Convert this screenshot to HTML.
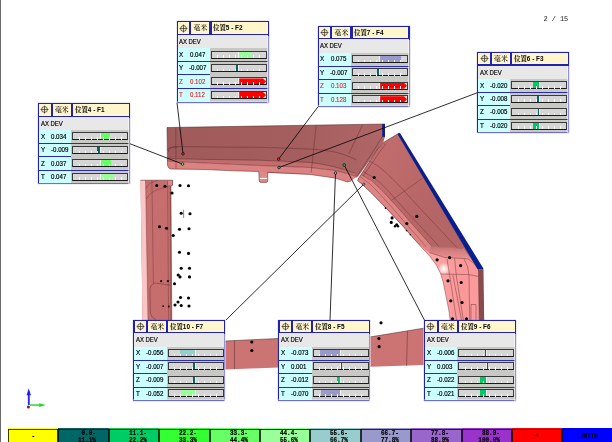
<!DOCTYPE html>
<html lang="zh">
<head>
<meta charset="utf-8">
<title>Report 2 / 15</title>
<style>
html,body{margin:0;padding:0;background:#fff;}
body{width:612px;height:442px;overflow:hidden;font-family:"Liberation Sans","Noto Sans CJK SC",sans-serif;}
#pg{filter:blur(0.3px);position:relative;width:612px;height:442px;overflow:hidden;background:#fff;}
.edge{position:absolute;left:0;top:0;width:1.2px;height:442px;background:#6a6a6a;}
.pn{position:absolute;left:543.4px;top:15.2px;font-family:"Liberation Mono",monospace;font-size:6.9px;line-height:8px;color:#222;white-space:pre;}
#mdl{position:absolute;left:0;top:0;}
.bx{position:absolute;width:90px;height:79.4px;background:#c8c8c4;box-shadow:0 0 0 1.1px #2222b0;font-size:6.6px;line-height:13.4px;color:#000;-webkit-text-stroke:0.18px #000;}
.bx .hd{position:absolute;left:0;top:0;width:90px;height:12.9px;background:#2222b0;}
.bx .c{position:absolute;top:0.2px;height:11.4px;background:#fff6cc;overflow:hidden;white-space:nowrap;line-height:11.4px;}
.bx .c1{left:0.2px;width:11.7px;}
.bx .c1 svg{position:absolute;left:1.3px;top:1.3px;}
.bx .c2{left:13.9px;width:18px;font-family:"Liberation Serif","Noto Serif CJK SC",serif;font-size:6.9px;text-align:center;-webkit-text-stroke:0;color:#000;font-weight:500;}
.bx .c3{left:34.1px;width:55.9px;font-family:"Liberation Sans","Noto Serif CJK SC",sans-serif;font-weight:bold;font-size:6.9px;-webkit-text-stroke:0;}
.bx .c3 span{position:absolute;left:1.8px;top:0;transform:scaleX(0.93);transform-origin:0 0;}
.bx .ax{position:absolute;left:0;top:12.9px;width:90px;height:13.2px;background:#e8e8e8;}
.bx .ax span{position:absolute;left:1.9px;top:-0.1px;transform:scaleX(0.9);transform-origin:0 0;white-space:nowrap;}
.bx .rw{position:absolute;left:0;width:90px;height:13.4px;}
.bx .r0{top:26.1px;}
.bx .r1{top:39.5px;}
.bx .r2{top:52.9px;}
.bx .r3{top:66.4px;height:13px;}
.bx .lb{position:absolute;left:0;top:0;width:32.3px;height:100%;background:#ccffff;}
.bx .a{position:absolute;left:1.8px;top:-0.3px;transform:scaleX(0.95);transform-origin:0 0;}
.bx .v{position:absolute;left:12px;top:-0.3px;transform:scaleX(0.93);transform-origin:0 0;white-space:nowrap;}
.bx .v.n{left:11.9px;}
.bx .red{color:#f01010;-webkit-text-stroke:0.1px #f01010;}
.bx .br{position:absolute;left:32.3px;top:0;width:57.7px;height:100%;background:#c8c8c4;}
.bx .tr{position:absolute;left:1.1px;top:2.35px;width:53.9px;height:5.9px;background:#d6d6d6;border:0.8px solid #3a3a3a;border-bottom-color:#1a1a1a;}
.bx .f{position:absolute;top:0;height:5.9px;}
.bx .t{position:absolute;top:3.7px;width:1px;height:2.5px;background:linear-gradient(#fff 0,#fff 85%,rgba(255,255,255,0.5) 100%);}
.bx .ct{position:absolute;left:26.4px;top:0;width:0.9px;height:6px;background:#f4f4f4;}
.bx .sp{position:absolute;left:0;height:0.8px;background:#2a2ab8;}
.bx .s1{top:39.1px;width:90px;}
.bx .s2{top:52.1px;width:32.3px;}
.bx .s3{top:66.1px;width:90px;}
.bx .fade{position:absolute;left:89.4px;top:13.6px;width:1.9px;height:67px;background:rgba(255,255,255,0.5);}
.bx .fadeb{position:absolute;left:-1.2px;top:78.8px;width:92.5px;height:1.8px;background:rgba(255,255,255,0.35);}
.lg{position:absolute;left:0;top:428.2px;width:612px;height:14px;}
.lc{position:absolute;top:0;height:14px;box-sizing:border-box;}
.lc::after{content:"";position:absolute;left:0;right:0;top:0.5px;bottom:-2px;box-shadow:inset 0 0 0 0.75px #000;}
.lt{position:absolute;left:0;right:12.6px;top:1.8px;text-align:right;font-family:"Liberation Mono",monospace;font-weight:bold;font-size:7.2px;line-height:7.2px;color:#000;-webkit-text-stroke:0.2px #000;transform:scaleX(0.83);transform-origin:100% 0;}
.one .lt{top:4.4px;right:0;text-align:center;transform-origin:50% 0;}
.bx .f.arw{clip-path:polygon(0 0,calc(100% - 3px) 0,100% 50%,calc(100% - 3px) 100%,0 100%);}

</style>
</head>
<body>
<div id="pg">
<div class="edge"></div>
<div class="pn">2 / 15</div>
<svg id="mdl" width="612" height="442" viewBox="0 0 612 442">
<defs>
<linearGradient id="gArm" gradientUnits="userSpaceOnUse" x1="380" y1="170" x2="440" y2="200">
<stop offset="0" stop-color="#c06c6c"/><stop offset="1" stop-color="#b46565"/>
</linearGradient>
<linearGradient id="gTop" gradientUnits="userSpaceOnUse" x1="170" y1="0" x2="385" y2="0">
<stop offset="0" stop-color="#9f5a5a"/><stop offset="0.6" stop-color="#a55e5e"/><stop offset="1" stop-color="#b06666"/>
</linearGradient>
<linearGradient id="gV" gradientUnits="userSpaceOnUse" x1="438" y1="0" x2="483" y2="0">
<stop offset="0" stop-color="#fca2a4"/><stop offset="0.5" stop-color="#fb989a"/><stop offset="1" stop-color="#fa9698"/>
</linearGradient>
<linearGradient id="gM" gradientUnits="userSpaceOnUse" x1="0" y1="247" x2="0" y2="263">
<stop offset="0" stop-color="#c87474"/><stop offset="1" stop-color="#f89c9e"/>
</linearGradient>
<radialGradient id="gH" gradientUnits="userSpaceOnUse" cx="444" cy="269" r="6.5">
<stop offset="0" stop-color="#fff" stop-opacity="0.95"/><stop offset="0.45" stop-color="#fff" stop-opacity="0.6"/><stop offset="1" stop-color="#fff" stop-opacity="0"/>
</radialGradient>
</defs>
<!-- left vertical piece -->
<g>
<polygon points="140.5,180.2 172.6,180.2 172.6,185.2 170.9,186 171.8,320 142.5,320" fill="#c66e6e"/>
<polygon points="140.5,180.2 145.6,180.2 148,320 142.5,320" fill="#f9c6c6"/>
<polygon points="168,180.4 172.6,180.4 172.6,185.2 170.9,186 168,186" fill="#d98a8a"/>
<path d="M151.9,180.4L153.4,284M145.6,180.2L148,320M167.6,181L168.6,320M170.1,186L170.8,320" stroke="#7a3c3c" stroke-width="0.5" fill="none"/>
<path d="M146.2,188.4 Q148,182.5 158,180.4 M146.4,199 Q150,192 158,189.6 Q166,187 170.7,185.2" stroke="#6a3030" stroke-width="0.4" fill="none"/>
<path d="M150,292 Q149.4,284.6 155,283 L170.5,285.2 M150,292 L150.4,312 Q151,318 156,319.4" stroke="#6a3030" stroke-width="0.5" fill="none"/>
<path d="M140.5,180.2H172.6" stroke="#5a2a2a" stroke-width="0.5"/>
</g>
<!-- bottom bar -->
<g>
<polygon points="225,341 278,338.5 371,336.8 423.5,328.2 423.5,365 371,366.8 278,367.6 225,369.4" fill="#cc7474"/>
<path d="M225,341L278,338.5L371,336.8L423.5,328.2" stroke="#3a1c1c" stroke-width="0.5" fill="none"/>
<path d="M234.5,340.6V369M407.5,331.3L406.6,366" stroke="#5a2a2a" stroke-width="0.5" fill="none"/>
</g>
<!-- right vertical piece -->
<g>
<path d="M420,245.7 L430,256.4 L436.4,265.2 L440.8,274 L443.3,282.8 L445.8,295 L448.8,310 L450.2,320 L479.2,320 L478.5,269.5 L463,248.2 L424,246 Z" fill="url(#gV)"/>
<path d="M424,246 L463,248.2 L478.5,269.5 Q474,262 467.8,258.9 L457.7,258.2 L445,257.6 L429.4,252.6 Z" fill="url(#gM)"/>
<path d="M469,275 L469.7,320 L479.2,320 L478.5,269.5 Q475,263 467.8,258.9 Q469,266 469,275Z" fill="#fa9a9c"/>
<path d="M478.3,269.5 L483.5,269.5 L484.2,320 L479.2,320 Z" fill="#874c4e"/>
<path d="M430,256.4 L436.4,265.2 L440.8,274 L443.3,282.8 L452,282 L452,258 L436,254 Z" fill="url(#gH)"/>
<g stroke="#6a3030" stroke-width="0.45" fill="none">
<path d="M447,258.9 Q448.5,268 449.6,275 L456.5,320"/>
<path d="M454.6,258.2 Q455.5,268 456.5,277 L463.4,320"/>
<path d="M452.8,275 L461.6,320"/>
<path d="M464,258.9 Q468.5,266 469,275 L469.7,320"/>
<path d="M440.8,274 L469,274.6 L478.5,276.5"/>
<path d="M471,320V304.5H476V320"/>
<path d="M424,246 L443.9,246.9 L463,248.2"/>
<path d="M429.4,252.6 L445,257.6 L457.7,258.2 L467.8,258.9 Q474,262 478.5,269.5"/>
<path d="M420,245.7 L430,256.4 L436.4,265.2 L440.8,274 L443.3,282.8 L445.8,295 L448.8,310 L450.2,320"/>
<path d="M478.5,269.5 L479.2,320"/>
</g>
</g>
<!-- diagonal arm -->
<g>
<polygon points="399,133.1 478,269.3 478.5,269.5 463,248.2 424,246 420,245 403.3,226.7 385.5,207.5 371.7,193.3 364,186 357.6,180.4 359,177.6 377,150 383.7,142.3" fill="url(#gArm)"/>
<polygon points="397.6,134.2 399.8,132.8 483.4,268.5 483.4,269.6 477.8,269.6" fill="#0a1e8c"/>
<g stroke="#6a3030" stroke-width="0.45" fill="none">
<path d="M369,160.8 Q378,165 385,171.7 Q395,181 403.3,190 L420,208.3 L446,236 L457,247.8"/>
<path d="M363.3,171.7 Q372,176 380,182.5 Q388,190 393.3,196.7 L408.3,213.3 L434,241 L439,246.6"/>
<path d="M423.3,177.5L385,205"/>
<path d="M386,143.5 Q381,150 377,156 L361.5,178.5"/>
</g>
</g>
<!-- top bar -->
<g>
<polygon points="167,127.5 260,126 385,124 385,136.8 383.3,142.3 376.4,151.3 358,176.4 356.7,176.7 347.5,173.6 335,170.5 310,167.5 260,165.5 205,163 167.5,161.2" fill="url(#gTop)"/>
<polygon points="382.2,124 385,124 385,136.8 382.2,136.8" fill="#0c1e8a"/>
<!-- tab -->
<path d="M258.8,171 L259.2,181 Q259.4,182.4 261,182.4 L266.2,182.4 Q267.7,182.4 267.7,181 L267.8,171.5Z" fill="#e08888"/>
<path d="M259.6,178.4H267.5" stroke="#fff" stroke-width="1.1"/>
</g>
<!-- light strip along inside -->
<path d="M168,157.5 Q169,158.6 175,158.8 L205,159.4 L260,160.2 L310,162.4 Q335,165.6 354.5,173 L356.7,176.7 L347.5,173.6 L335,170.5 L310,167.5 L260,165.5 L205,163 L167.5,161.2 Z" fill="#c16d6d"/>

<path d="M167.5,161.2 L205,163 L260,165.5 L310,167.5 L335,170.5 L347.5,173.6 L356.7,176.7 L350.8,181.2 L347.5,182 L335,178 L310,174.5 L268.8,173 L258.8,171.5 L232.5,170.8 L205,169.5 L170.5,169 Q167.7,168 167.5,165 Z" fill="#dc8282"/>
<path d="M361.5,175 L372,181 L381,189.5 L395,204.5 L411.7,223.5 L431,245.5 L429.4,252.6 L420,245.7 L403.3,226.7 L385.5,207.5 L371.7,193.3 L364,186 L357.6,180.4 L359,177.6 Z" fill="#de8484"/><path d="M361.5,175 L372,181 L381,189.5 L395,204.5 L411.7,223.5 L431,245.5 M360,176.6 L369.5,183.6 L378,192 L392,207.5 L408,226 L426,246.5" stroke="#6a3030" stroke-width="0.4" fill="none"/>
<!-- top bar lines -->
<g stroke="#5c2a2a" stroke-width="0.45" fill="none">
<path d="M175.8,127.6 L176,168.8 M168.4,152 Q169,146.6 175.3,146.4 L180,146.6 L230,147.2 L260,147.3 L297.5,148.6 Q320,149 335,152 Q350,156 356.2,160"/>
<path d="M167.5,150 Q168,147.8 171,147.6 L177.5,147.5"/>
<path d="M167.8,157 Q169,158.6 175,158.8 L205,159.4 L260,160.2 L310,162.4 Q335,165.6 354.5,173"/>
<path d="M316.2,125 L311.2,172.5"/>
<path d="M362.5,125 L348.8,153.8"/>
<path d="M167.5,161.2 L205,163 L260,165.5 L310,167.5 L335,170.5 L347.5,173.6 L356.7,176.7"/>
</g>
<!-- silhouettes -->
<g stroke="#4a2222" stroke-width="0.5" fill="none">
<path d="M167,127.5 L260,126 L385,124"/>
<path d="M167,127.5 L167.5,165 Q167.7,168 170.5,169 L205,169.5 L232.5,170.8 L258.8,171.5 L259.2,181 Q259.4,182.4 261,182.4 L266.2,182.4 Q267.7,182.4 267.7,181 L267.8,172.2 L310,174.5 L335,178 L347.5,182 L350.8,181"/>
<path d="M357.6,180.4 L364,186 L371.7,193.3 L385.5,207.5 L403.3,226.7 L420,245.7"/>
<path d="M382.2,136.8 L375,148.5 L356,177.8" stroke-width="0.4"/>
<path d="M399,133.1 L383.7,142.3 L377,150 L359,177.6 L357.6,180.4"/>
<path d="M172.6,180.2V185.2L170.9,186L171.8,320"/>
</g>
<!-- dots -->
<g fill="#000">
<circle cx="156.8" cy="185.5" r="1.55"/><circle cx="165" cy="186.2" r="1.55"/><circle cx="180" cy="185.5" r="1.55"/><circle cx="188.5" cy="185.8" r="1.55"/>
<circle cx="172" cy="193" r="1.55"/><circle cx="181.2" cy="213.2" r="1.55"/><circle cx="190" cy="213.8" r="1.55"/>
<circle cx="159.5" cy="226.8" r="1.55"/><circle cx="166.5" cy="228.2" r="1.55"/><circle cx="179.5" cy="229.2" r="1.55"/><circle cx="189" cy="228.8" r="1.55"/>
<circle cx="173.2" cy="235.5" r="1.55"/><circle cx="179.5" cy="252.2" r="1.55"/><circle cx="188.5" cy="253.4" r="1.55"/>
<circle cx="181.2" cy="268.2" r="1.55"/><circle cx="189.5" cy="268.2" r="1.55"/><circle cx="178.2" cy="275" r="1.55"/><circle cx="180" cy="276.9" r="1.55"/><circle cx="189.5" cy="276.9" r="1.55"/>
<circle cx="161.2" cy="281.2" r="1.1"/><circle cx="168" cy="281.2" r="1.1"/><circle cx="174.5" cy="283.8" r="1.55"/>
<circle cx="180.5" cy="297.5" r="1.55"/><circle cx="188.5" cy="298" r="1.55"/><circle cx="178" cy="302" r="1.55"/><circle cx="175" cy="305" r="1.55"/><circle cx="181.2" cy="305.5" r="1.55"/><circle cx="189" cy="306" r="1.55"/>
<circle cx="163.2" cy="306.2" r="0.9"/><circle cx="168.8" cy="306.5" r="0.9"/>
<circle cx="251.8" cy="342" r="1.6"/><circle cx="251.8" cy="350.5" r="1.6"/>
<circle cx="381" cy="322.8" r="1.6"/><circle cx="378.9" cy="338.6" r="1.6"/><circle cx="379.1" cy="346.7" r="1.6"/>
<circle cx="374.2" cy="177.5" r="1.6"/><circle cx="416.8" cy="216.4" r="1.6"/><circle cx="406.8" cy="223.5" r="1.6"/>
<circle cx="385.5" cy="208" r="0.9"/><circle cx="392.1" cy="217.9" r="1.55"/><circle cx="391.3" cy="222.4" r="1.55"/>
<circle cx="396.7" cy="224.7" r="1.55"/><circle cx="395" cy="226.2" r="1.2"/><circle cx="398" cy="226.2" r="1.2"/>
<circle cx="406.5" cy="230.6" r="0.8"/><circle cx="410.2" cy="234.8" r="0.7"/>
<circle cx="437.1" cy="259.8" r="1.6"/><circle cx="449.6" cy="257.6" r="1.6"/><circle cx="460.6" cy="265.6" r="1.6"/>
<circle cx="448" cy="280.8" r="1.6"/><circle cx="461.2" cy="282.5" r="1.6"/><circle cx="450.8" cy="300.8" r="1.6"/><circle cx="462" cy="302.5" r="1.6"/>
<circle cx="452.5" cy="318.8" r="1.6"/><circle cx="466.5" cy="318.8" r="1.6"/>
</g>
<path d="M183.6,209.7V217.9" stroke="#111" stroke-width="0.5"/>
<!-- leader lines -->
<g stroke="#0a0a0a" stroke-width="0.85" fill="none">
<path d="M130.1,143.8L182.5,164"/>
<path d="M177,102.6L183,153.8"/>
<path d="M318,106.8L278.6,159.1"/>
<path d="M477.4,92.7L279,167.5"/>
<path d="M226,320L363.8,184.2"/>
<path d="M330,320L335.5,173"/>
<path d="M424.4,320L344.2,165"/>
</g>
<g stroke="#111" stroke-width="0.7">
<circle cx="183" cy="153.8" r="1.3" fill="#f01818"/>
<circle cx="182.5" cy="164" r="1.3" fill="#58e858"/>
<circle cx="278.6" cy="159.1" r="1.3" fill="#f01818"/>
<circle cx="279" cy="167.5" r="1.3" fill="#10c060"/>
<circle cx="344.2" cy="165" r="1.4" fill="#10c060"/>
<circle cx="335.5" cy="173" r="1.3" fill="#a0a0e0"/>
<circle cx="363.8" cy="184.2" r="1.1" fill="#a0e0e8"/>
</g>
<!-- triad -->
<g>
<path d="M28.8,405V394.5" stroke="#2a2af0" stroke-width="1.9"/>
<polygon points="26.6,395.2 31,395.2 28.7,388.2" fill="#2020e8"/>
<path d="M30,405.1H39.6" stroke="#30e030" stroke-width="1.6"/>
<polygon points="39.2,403.3 39.2,406.9 45.8,405.1" fill="#20d820"/>
<circle cx="28.4" cy="407" r="1.55" fill="#9a1414"/>
</g>
</svg>

<div class="bx" style="left:38.90px;top:104.00px">
<div class="hd"><div class="c c1"><svg width="9" height="9" viewBox="0 0 9 9"><circle cx="4.5" cy="4.5" r="2.9" fill="#f6ecc0" stroke="#222" stroke-width="0.65"/><path d="M4.5 0.5V8.5M0.5 4.5H8.5" stroke="#222" stroke-width="0.65" fill="none"/></svg></div><div class="c c2">毫米</div><div class="c c3"><span>位置4 - F1</span></div></div>
<div class="ax"><span>AX DEV</span></div>
<div class="rw r0"><div class="lb"><span class="a">X</span><span class="v">0.034</span></div><div class="br"><div class="tr"><i class="f" style="left:27.3px;width:9.4px;background:#66ff66"></i><i class="t" style="left:5.4px"></i><i class="t" style="left:11.4px"></i><i class="t" style="left:17.4px"></i><i class="t" style="left:23.4px"></i><i class="t" style="left:29.4px"></i><i class="t" style="left:35.5px"></i><i class="t" style="left:41.5px"></i><i class="t" style="left:47.5px"></i><i class="ct"></i></div></div></div>
<div class="rw r1"><div class="lb"><span class="a">Y</span><span class="v n">-0.009</span></div><div class="br"><div class="tr"><i class="f" style="left:24.0px;width:2.5px;background:#006666"></i><i class="t" style="left:5.4px"></i><i class="t" style="left:11.4px"></i><i class="t" style="left:17.4px"></i><i class="t" style="left:23.4px"></i><i class="t" style="left:29.4px"></i><i class="t" style="left:35.5px"></i><i class="t" style="left:41.5px"></i><i class="t" style="left:47.5px"></i><i class="ct"></i></div></div></div>
<div class="rw r2"><div class="lb"><span class="a">Z</span><span class="v">0.037</span></div><div class="br"><div class="tr"><i class="f" style="left:27.3px;width:10.2px;background:#66ff66"></i><i class="t" style="left:5.4px"></i><i class="t" style="left:11.4px"></i><i class="t" style="left:17.4px"></i><i class="t" style="left:23.4px"></i><i class="t" style="left:29.4px"></i><i class="t" style="left:35.5px"></i><i class="t" style="left:41.5px"></i><i class="t" style="left:47.5px"></i><i class="ct"></i></div></div></div>
<div class="rw r3"><div class="lb"><span class="a">T</span><span class="v">0.047</span></div><div class="br"><div class="tr"><i class="f" style="left:27.3px;width:12.9px;background:#99ff99"></i><i class="t" style="left:5.4px"></i><i class="t" style="left:11.4px"></i><i class="t" style="left:17.4px"></i><i class="t" style="left:23.4px"></i><i class="t" style="left:29.4px"></i><i class="t" style="left:35.5px"></i><i class="t" style="left:41.5px"></i><i class="t" style="left:47.5px"></i><i class="ct"></i></div></div></div>
<i class="sp s1"></i><i class="sp s2"></i><i class="sp s3"></i><i class="fade"></i><i class="fadeb"></i>
</div>
<div class="bx" style="left:177.55px;top:22.25px">
<div class="hd"><div class="c c1"><svg width="9" height="9" viewBox="0 0 9 9"><circle cx="4.5" cy="4.5" r="2.9" fill="#f6ecc0" stroke="#222" stroke-width="0.65"/><path d="M4.5 0.5V8.5M0.5 4.5H8.5" stroke="#222" stroke-width="0.65" fill="none"/></svg></div><div class="c c2">毫米</div><div class="c c3"><span>位置5 - F2</span></div></div>
<div class="ax"><span>AX DEV</span></div>
<div class="rw r0"><div class="lb"><span class="a">X</span><span class="v">0.047</span></div><div class="br"><div class="tr"><i class="f" style="left:27.3px;width:12.9px;background:#99ff99"></i><i class="t" style="left:5.4px"></i><i class="t" style="left:11.4px"></i><i class="t" style="left:17.4px"></i><i class="t" style="left:23.4px"></i><i class="t" style="left:29.4px"></i><i class="t" style="left:35.5px"></i><i class="t" style="left:41.5px"></i><i class="t" style="left:47.5px"></i><i class="ct"></i></div></div></div>
<div class="rw r1"><div class="lb"><span class="a">Y</span><span class="v n">-0.007</span></div><div class="br"><div class="tr"><i class="f" style="left:24.5px;width:1.9px;background:#006666"></i><i class="t" style="left:5.4px"></i><i class="t" style="left:11.4px"></i><i class="t" style="left:17.4px"></i><i class="t" style="left:23.4px"></i><i class="t" style="left:29.4px"></i><i class="t" style="left:35.5px"></i><i class="t" style="left:41.5px"></i><i class="t" style="left:47.5px"></i><i class="ct"></i></div></div></div>
<div class="rw red r2"><div class="lb"><span class="a">Z</span><span class="v">0.102</span></div><div class="br"><div class="tr"><i class="f arw" style="left:27.3px;width:26.8px;background:#ff0000"></i><i class="t" style="left:5.4px"></i><i class="t" style="left:11.4px"></i><i class="t" style="left:17.4px"></i><i class="t" style="left:23.4px"></i><i class="t" style="left:29.4px"></i><i class="t" style="left:35.5px"></i><i class="t" style="left:41.5px"></i><i class="t" style="left:47.5px"></i><i class="ct"></i></div></div></div>
<div class="rw red r3"><div class="lb"><span class="a">T</span><span class="v">0.112</span></div><div class="br"><div class="tr"><i class="f arw" style="left:27.3px;width:26.8px;background:#ff0000"></i><i class="t" style="left:5.4px"></i><i class="t" style="left:11.4px"></i><i class="t" style="left:17.4px"></i><i class="t" style="left:23.4px"></i><i class="t" style="left:29.4px"></i><i class="t" style="left:35.5px"></i><i class="t" style="left:41.5px"></i><i class="t" style="left:47.5px"></i><i class="ct"></i></div></div></div>
<i class="sp s1"></i><i class="sp s2"></i><i class="sp s3"></i><i class="fade"></i><i class="fadeb"></i>
</div>
<div class="bx" style="left:318.50px;top:26.55px">
<div class="hd"><div class="c c1"><svg width="9" height="9" viewBox="0 0 9 9"><circle cx="4.5" cy="4.5" r="2.9" fill="#f6ecc0" stroke="#222" stroke-width="0.65"/><path d="M4.5 0.5V8.5M0.5 4.5H8.5" stroke="#222" stroke-width="0.65" fill="none"/></svg></div><div class="c c2">毫米</div><div class="c c3"><span>位置7 - F4</span></div></div>
<div class="ax"><span>AX DEV</span></div>
<div class="rw r0"><div class="lb"><span class="a">X</span><span class="v">0.075</span></div><div class="br"><div class="tr"><i class="f" style="left:27.3px;width:20.6px;background:#9999cc"></i><i class="t" style="left:5.4px"></i><i class="t" style="left:11.4px"></i><i class="t" style="left:17.4px"></i><i class="t" style="left:23.4px"></i><i class="t" style="left:29.4px"></i><i class="t" style="left:35.5px"></i><i class="t" style="left:41.5px"></i><i class="t" style="left:47.5px"></i><i class="ct"></i></div></div></div>
<div class="rw r1"><div class="lb"><span class="a">Y</span><span class="v n">-0.007</span></div><div class="br"><div class="tr"><i class="f" style="left:24.5px;width:1.9px;background:#006666"></i><i class="t" style="left:5.4px"></i><i class="t" style="left:11.4px"></i><i class="t" style="left:17.4px"></i><i class="t" style="left:23.4px"></i><i class="t" style="left:29.4px"></i><i class="t" style="left:35.5px"></i><i class="t" style="left:41.5px"></i><i class="t" style="left:47.5px"></i><i class="ct"></i></div></div></div>
<div class="rw red r2"><div class="lb"><span class="a">Z</span><span class="v">0.103</span></div><div class="br"><div class="tr"><i class="f arw" style="left:27.3px;width:26.8px;background:#ff0000"></i><i class="t" style="left:5.4px"></i><i class="t" style="left:11.4px"></i><i class="t" style="left:17.4px"></i><i class="t" style="left:23.4px"></i><i class="t" style="left:29.4px"></i><i class="t" style="left:35.5px"></i><i class="t" style="left:41.5px"></i><i class="t" style="left:47.5px"></i><i class="ct"></i></div></div></div>
<div class="rw red r3"><div class="lb"><span class="a">T</span><span class="v">0.128</span></div><div class="br"><div class="tr"><i class="f arw" style="left:27.3px;width:26.8px;background:#ff0000"></i><i class="t" style="left:5.4px"></i><i class="t" style="left:11.4px"></i><i class="t" style="left:17.4px"></i><i class="t" style="left:23.4px"></i><i class="t" style="left:29.4px"></i><i class="t" style="left:35.5px"></i><i class="t" style="left:41.5px"></i><i class="t" style="left:47.5px"></i><i class="ct"></i></div></div></div>
<i class="sp s1"></i><i class="sp s2"></i><i class="sp s3"></i><i class="fade"></i><i class="fadeb"></i>
</div>
<div class="bx" style="left:478.10px;top:52.90px">
<div class="hd"><div class="c c1"><svg width="9" height="9" viewBox="0 0 9 9"><circle cx="4.5" cy="4.5" r="2.9" fill="#f6ecc0" stroke="#222" stroke-width="0.65"/><path d="M4.5 0.5V8.5M0.5 4.5H8.5" stroke="#222" stroke-width="0.65" fill="none"/></svg></div><div class="c c2">毫米</div><div class="c c3"><span>位置6 - F3</span></div></div>
<div class="ax"><span>AX DEV</span></div>
<div class="rw r0"><div class="lb"><span class="a">X</span><span class="v n">-0.020</span></div><div class="br"><div class="tr"><i class="f" style="left:20.9px;width:5.5px;background:#00cc66"></i><i class="t" style="left:5.4px"></i><i class="t" style="left:11.4px"></i><i class="t" style="left:17.4px"></i><i class="t" style="left:23.4px"></i><i class="t" style="left:29.4px"></i><i class="t" style="left:35.5px"></i><i class="t" style="left:41.5px"></i><i class="t" style="left:47.5px"></i><i class="ct"></i></div></div></div>
<div class="rw r1"><div class="lb"><span class="a">Y</span><span class="v n">-0.008</span></div><div class="br"><div class="tr"><i class="f" style="left:24.2px;width:2.2px;background:#006666"></i><i class="t" style="left:5.4px"></i><i class="t" style="left:11.4px"></i><i class="t" style="left:17.4px"></i><i class="t" style="left:23.4px"></i><i class="t" style="left:29.4px"></i><i class="t" style="left:35.5px"></i><i class="t" style="left:41.5px"></i><i class="t" style="left:47.5px"></i><i class="ct"></i></div></div></div>
<div class="rw r2"><div class="lb"><span class="a">Z</span><span class="v n">-0.005</span></div><div class="br"><div class="tr"><i class="f" style="left:25.3px;width:1.1px;background:#006666"></i><i class="t" style="left:5.4px"></i><i class="t" style="left:11.4px"></i><i class="t" style="left:17.4px"></i><i class="t" style="left:23.4px"></i><i class="t" style="left:29.4px"></i><i class="t" style="left:35.5px"></i><i class="t" style="left:41.5px"></i><i class="t" style="left:47.5px"></i><i class="ct"></i></div></div></div>
<div class="rw r3"><div class="lb"><span class="a">T</span><span class="v n">-0.020</span></div><div class="br"><div class="tr"><i class="f" style="left:20.9px;width:5.5px;background:#00cc66"></i><i class="t" style="left:5.4px"></i><i class="t" style="left:11.4px"></i><i class="t" style="left:17.4px"></i><i class="t" style="left:23.4px"></i><i class="t" style="left:29.4px"></i><i class="t" style="left:35.5px"></i><i class="t" style="left:41.5px"></i><i class="t" style="left:47.5px"></i><i class="ct"></i></div></div></div>
<i class="sp s1"></i><i class="sp s2"></i><i class="sp s3"></i><i class="fade"></i><i class="fadeb"></i>
</div>
<div class="bx" style="left:134.40px;top:320.60px">
<div class="hd"><div class="c c1"><svg width="9" height="9" viewBox="0 0 9 9"><circle cx="4.5" cy="4.5" r="2.9" fill="#f6ecc0" stroke="#222" stroke-width="0.65"/><path d="M4.5 0.5V8.5M0.5 4.5H8.5" stroke="#222" stroke-width="0.65" fill="none"/></svg></div><div class="c c2">毫米</div><div class="c c3"><span>位置10 - F7</span></div></div>
<div class="ax"><span>AX DEV</span></div>
<div class="rw r0"><div class="lb"><span class="a">X</span><span class="v n">-0.056</span></div><div class="br"><div class="tr"><i class="f" style="left:11.0px;width:15.4px;background:#99cccc"></i><i class="t" style="left:5.4px"></i><i class="t" style="left:11.4px"></i><i class="t" style="left:17.4px"></i><i class="t" style="left:23.4px"></i><i class="t" style="left:29.4px"></i><i class="t" style="left:35.5px"></i><i class="t" style="left:41.5px"></i><i class="t" style="left:47.5px"></i><i class="ct"></i></div></div></div>
<div class="rw r1"><div class="lb"><span class="a">Y</span><span class="v n">-0.007</span></div><div class="br"><div class="tr"><i class="f" style="left:24.5px;width:1.9px;background:#006666"></i><i class="t" style="left:5.4px"></i><i class="t" style="left:11.4px"></i><i class="t" style="left:17.4px"></i><i class="t" style="left:23.4px"></i><i class="t" style="left:29.4px"></i><i class="t" style="left:35.5px"></i><i class="t" style="left:41.5px"></i><i class="t" style="left:47.5px"></i><i class="ct"></i></div></div></div>
<div class="rw r2"><div class="lb"><span class="a">Z</span><span class="v n">-0.009</span></div><div class="br"><div class="tr"><i class="f" style="left:24.0px;width:2.5px;background:#006666"></i><i class="t" style="left:5.4px"></i><i class="t" style="left:11.4px"></i><i class="t" style="left:17.4px"></i><i class="t" style="left:23.4px"></i><i class="t" style="left:29.4px"></i><i class="t" style="left:35.5px"></i><i class="t" style="left:41.5px"></i><i class="t" style="left:47.5px"></i><i class="ct"></i></div></div></div>
<div class="rw r3"><div class="lb"><span class="a">T</span><span class="v n">-0.052</span></div><div class="br"><div class="tr"><i class="f" style="left:12.2px;width:14.3px;background:#99ff99"></i><i class="t" style="left:5.4px"></i><i class="t" style="left:11.4px"></i><i class="t" style="left:17.4px"></i><i class="t" style="left:23.4px"></i><i class="t" style="left:29.4px"></i><i class="t" style="left:35.5px"></i><i class="t" style="left:41.5px"></i><i class="t" style="left:47.5px"></i><i class="ct"></i></div></div></div>
<i class="sp s1"></i><i class="sp s2"></i><i class="sp s3"></i><i class="fade"></i><i class="fadeb"></i>
</div>
<div class="bx" style="left:279.40px;top:320.60px">
<div class="hd"><div class="c c1"><svg width="9" height="9" viewBox="0 0 9 9"><circle cx="4.5" cy="4.5" r="2.9" fill="#f6ecc0" stroke="#222" stroke-width="0.65"/><path d="M4.5 0.5V8.5M0.5 4.5H8.5" stroke="#222" stroke-width="0.65" fill="none"/></svg></div><div class="c c2">毫米</div><div class="c c3"><span>位置8 - F5</span></div></div>
<div class="ax"><span>AX DEV</span></div>
<div class="rw r0"><div class="lb"><span class="a">X</span><span class="v n">-0.073</span></div><div class="br"><div class="tr"><i class="f" style="left:6.4px;width:20.1px;background:#9999cc"></i><i class="t" style="left:5.4px"></i><i class="t" style="left:11.4px"></i><i class="t" style="left:17.4px"></i><i class="t" style="left:23.4px"></i><i class="t" style="left:29.4px"></i><i class="t" style="left:35.5px"></i><i class="t" style="left:41.5px"></i><i class="t" style="left:47.5px"></i><i class="ct"></i></div></div></div>
<div class="rw r1"><div class="lb"><span class="a">Y</span><span class="v">0.001</span></div><div class="br"><div class="tr"><i class="f" style="left:27.3px;width:0.8px;background:#006666"></i><i class="t" style="left:5.4px"></i><i class="t" style="left:11.4px"></i><i class="t" style="left:17.4px"></i><i class="t" style="left:23.4px"></i><i class="t" style="left:29.4px"></i><i class="t" style="left:35.5px"></i><i class="t" style="left:41.5px"></i><i class="t" style="left:47.5px"></i><i class="ct"></i></div></div></div>
<div class="rw r2"><div class="lb"><span class="a">Z</span><span class="v n">-0.012</span></div><div class="br"><div class="tr"><i class="f" style="left:23.1px;width:3.3px;background:#00cc66"></i><i class="t" style="left:5.4px"></i><i class="t" style="left:11.4px"></i><i class="t" style="left:17.4px"></i><i class="t" style="left:23.4px"></i><i class="t" style="left:29.4px"></i><i class="t" style="left:35.5px"></i><i class="t" style="left:41.5px"></i><i class="t" style="left:47.5px"></i><i class="ct"></i></div></div></div>
<div class="rw r3"><div class="lb"><span class="a">T</span><span class="v n">-0.070</span></div><div class="br"><div class="tr"><i class="f" style="left:7.2px;width:19.3px;background:#9999cc"></i><i class="t" style="left:5.4px"></i><i class="t" style="left:11.4px"></i><i class="t" style="left:17.4px"></i><i class="t" style="left:23.4px"></i><i class="t" style="left:29.4px"></i><i class="t" style="left:35.5px"></i><i class="t" style="left:41.5px"></i><i class="t" style="left:47.5px"></i><i class="ct"></i></div></div></div>
<i class="sp s1"></i><i class="sp s2"></i><i class="sp s3"></i><i class="fade"></i><i class="fadeb"></i>
</div>
<div class="bx" style="left:424.90px;top:320.60px">
<div class="hd"><div class="c c1"><svg width="9" height="9" viewBox="0 0 9 9"><circle cx="4.5" cy="4.5" r="2.9" fill="#f6ecc0" stroke="#222" stroke-width="0.65"/><path d="M4.5 0.5V8.5M0.5 4.5H8.5" stroke="#222" stroke-width="0.65" fill="none"/></svg></div><div class="c c2">毫米</div><div class="c c3"><span>位置9 - F6</span></div></div>
<div class="ax"><span>AX DEV</span></div>
<div class="rw r0"><div class="lb"><span class="a">X</span><span class="v n">-0.006</span></div><div class="br"><div class="tr"><i class="f" style="left:25.3px;width:1.1px;background:#006666"></i><i class="t" style="left:5.4px"></i><i class="t" style="left:11.4px"></i><i class="t" style="left:17.4px"></i><i class="t" style="left:23.4px"></i><i class="t" style="left:29.4px"></i><i class="t" style="left:35.5px"></i><i class="t" style="left:41.5px"></i><i class="t" style="left:47.5px"></i><i class="ct"></i></div></div></div>
<div class="rw r1"><div class="lb"><span class="a">Y</span><span class="v">0.003</span></div><div class="br"><div class="tr"><i class="f" style="left:27.3px;width:0.8px;background:#006666"></i><i class="t" style="left:5.4px"></i><i class="t" style="left:11.4px"></i><i class="t" style="left:17.4px"></i><i class="t" style="left:23.4px"></i><i class="t" style="left:29.4px"></i><i class="t" style="left:35.5px"></i><i class="t" style="left:41.5px"></i><i class="t" style="left:47.5px"></i><i class="ct"></i></div></div></div>
<div class="rw r2"><div class="lb"><span class="a">Z</span><span class="v n">-0.022</span></div><div class="br"><div class="tr"><i class="f" style="left:20.4px;width:6.0px;background:#00cc66"></i><i class="t" style="left:5.4px"></i><i class="t" style="left:11.4px"></i><i class="t" style="left:17.4px"></i><i class="t" style="left:23.4px"></i><i class="t" style="left:29.4px"></i><i class="t" style="left:35.5px"></i><i class="t" style="left:41.5px"></i><i class="t" style="left:47.5px"></i><i class="ct"></i></div></div></div>
<div class="rw r3"><div class="lb"><span class="a">T</span><span class="v n">-0.021</span></div><div class="br"><div class="tr"><i class="f" style="left:20.7px;width:5.8px;background:#00cc66"></i><i class="t" style="left:5.4px"></i><i class="t" style="left:11.4px"></i><i class="t" style="left:17.4px"></i><i class="t" style="left:23.4px"></i><i class="t" style="left:29.4px"></i><i class="t" style="left:35.5px"></i><i class="t" style="left:41.5px"></i><i class="t" style="left:47.5px"></i><i class="ct"></i></div></div></div>
<i class="sp s1"></i><i class="sp s2"></i><i class="sp s3"></i><i class="fade"></i><i class="fadeb"></i>
</div>
<div class="lg">
<div class="lc one" style="left:8.0px;width:50.4px;background:#ffff00"><div class="lt">-</div></div>
<div class="lc" style="left:58.4px;width:50.4px;background:#006666"><div class="lt">0.0-<br>11.1%</div></div>
<div class="lc" style="left:108.8px;width:50.4px;background:#00cc66"><div class="lt">11.1-<br>22.2%</div></div>
<div class="lc" style="left:159.2px;width:50.4px;background:#33ff33"><div class="lt">22.2-<br>33.3%</div></div>
<div class="lc" style="left:209.6px;width:50.4px;background:#66ff66"><div class="lt">33.3-<br>44.4%</div></div>
<div class="lc" style="left:260.0px;width:50.4px;background:#99ff99"><div class="lt">44.4-<br>55.6%</div></div>
<div class="lc" style="left:310.4px;width:50.4px;background:#99cccc"><div class="lt">55.6-<br>66.7%</div></div>
<div class="lc" style="left:360.8px;width:50.4px;background:#9999cc"><div class="lt">66.7-<br>77.8%</div></div>
<div class="lc" style="left:411.2px;width:50.4px;background:#9966cc"><div class="lt">77.8-<br>88.9%</div></div>
<div class="lc" style="left:461.6px;width:50.4px;background:#9933cc"><div class="lt">88.9-<br>100.0%</div></div>
<div class="lc one" style="left:512.0px;width:50.4px;background:#ff0000"><div class="lt">+</div></div>
<div class="lc one" style="left:562.4px;width:50.4px;background:#0000ff"><div class="lt">LIMITS</div></div>
</div>
</div>
</body>
</html>
